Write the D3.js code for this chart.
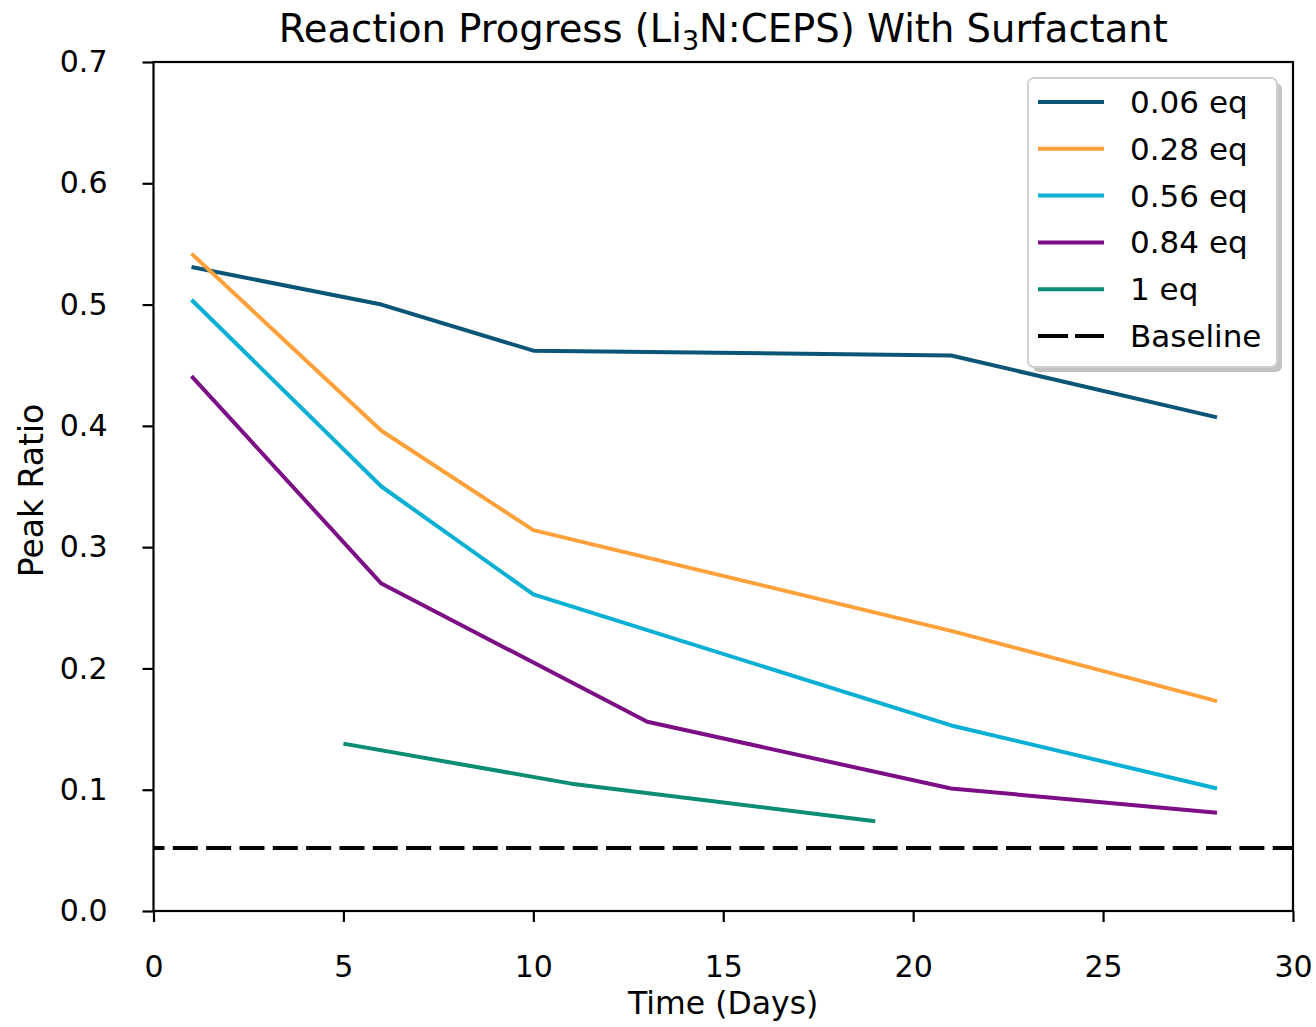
<!DOCTYPE html>
<html>
<head>
<meta charset="utf-8">
<script src="https://cdn.jsdelivr.net/npm/d3@7"></script>
<style>
  body { margin: 0; background: #fff; }
  text { font-family: "DejaVu Sans", sans-serif; fill: #000; }
</style>
</head>
<body>
<div id="chart"></div>
<script>
// data
var seriesNames = ["0.06 eq", "0.28 eq", "0.56 eq", "0.84 eq", "1 eq"];
var seriesColors = ["#0b5577", "#ffa13a", "#0aafd4", "#7c0e86", "#0a8d72"];
var days006 = [1, 6, 10, 21, 28];
var vals006 = [0.531, 0.500, 0.462, 0.458, 0.407];
var days028 = [1, 6, 10, 21, 28];
var vals028 = [0.542, 0.396, 0.314, 0.231, 0.173];
var days056 = [1, 6, 10, 21, 28];
var vals056 = [0.504, 0.350, 0.261, 0.153, 0.101];
var days084 = [1, 6, 13, 21, 28];
var vals084 = [0.441, 0.270, 0.156, 0.101, 0.081];
var days1 = [5, 11, 19];
var vals1 = [0.138, 0.105, 0.074];
var baseline = 0.052;
var xTicks = [0, 5, 10, 15, 20, 25, 30];
var yTicks = [0.0, 0.1, 0.2, 0.3, 0.4, 0.5, 0.6, 0.7];

var allDays = [days006, days028, days056, days084, days1];
var allVals = [vals006, vals028, vals056, vals084, vals1];

var width = 1316, height = 1027;
var margin = {left: 153.5, right: 23, top: 62, bottom: 116};

var svg = d3.select("#chart").append("svg")
  .attr("width", width)
  .attr("height", height);

var x = d3.scaleLinear().domain([0, 30]).range([margin.left, width - margin.right]);
var y = d3.scaleLinear().domain([0, 0.7]).range([height - margin.bottom, margin.top]);

// series lines
var line = d3.line()
  .x(function(d) { return x(d[0]); })
  .y(function(d) { return y(d[1]); });

allDays.forEach(function(days, i) {
  var pts = days.map(function(d, j) { return [d, allVals[i][j]]; });
  svg.append("path")
    .datum(pts)
    .attr("d", line)
    .attr("fill", "none")
    .attr("stroke", seriesColors[i])
    .attr("stroke-width", 4)
    .attr("stroke-linejoin", "round");
});

// baseline
svg.append("line")
  .attr("x1", x(0)).attr("x2", x(30))
  .attr("y1", y(baseline)).attr("y2", y(baseline))
  .attr("stroke", "#000")
  .attr("stroke-width", 4)
  .attr("stroke-dasharray", "25,8.33")
  .attr("stroke-dashoffset", 14);

// axes
var xAxis = svg.append("g")
  .attr("transform", "translate(0," + y(0) + ")")
  .call(d3.axisBottom(x).tickValues(xTicks).tickFormat(d3.format("d")).tickSize(11).tickPadding(34).tickSizeOuter(0));
var yAxis = svg.append("g")
  .attr("transform", "translate(" + x(0) + ",0)")
  .call(d3.axisLeft(y).tickValues(yTicks).tickFormat(d3.format(".1f")).tickSize(11).tickPadding(35).tickSizeOuter(0));

[xAxis, yAxis].forEach(function(g) {
  g.select(".domain").remove();
  g.selectAll(".tick line").attr("stroke", "#000").attr("stroke-width", 2.2);
  g.selectAll(".tick text").attr("font-size", 30).attr("font-family", "DejaVu Sans").attr("fill", "#000");
});

// frame
svg.append("rect")
  .attr("x", x(0)).attr("y", y(0.7))
  .attr("width", x(30) - x(0)).attr("height", y(0) - y(0.7))
  .attr("fill", "none")
  .attr("stroke", "#000")
  .attr("stroke-width", 2.2);

// title
var title = svg.append("text")
  .attr("x", (x(0) + x(30)) / 2)
  .attr("y", 42)
  .attr("text-anchor", "middle")
  .attr("font-size", 38.5);
title.append("tspan").text("Reaction Progress (Li");
title.append("tspan").attr("font-size", 27).attr("dy", 8).text("3");
title.append("tspan").attr("dy", -8).text("N:CEPS) With Surfactant");

// axis labels
svg.append("text")
  .attr("x", (x(0) + x(30)) / 2)
  .attr("y", 1014)
  .attr("text-anchor", "middle")
  .attr("font-size", 31.5)
  .text("Time (Days)");
svg.append("text")
  .attr("transform", "translate(43," + ((y(0) + y(0.7)) / 2 + 4) + ") rotate(-90)")
  .attr("text-anchor", "middle")
  .attr("font-size", 33)
  .text("Peak Ratio");

// legend
var lx = 1028, ly = 78, lw = 249, lh = 289;
var legend = svg.append("g");
legend.append("rect")
  .attr("x", lx + 5).attr("y", ly + 5)
  .attr("width", lw).attr("height", lh)
  .attr("rx", 6)
  .attr("fill", "#999").attr("opacity", 0.6);
legend.append("rect")
  .attr("x", lx).attr("y", ly)
  .attr("width", lw).attr("height", lh)
  .attr("rx", 6)
  .attr("fill", "#fff")
  .attr("stroke", "#d0d0d0")
  .attr("stroke-width", 2);

var legendItems = seriesNames.concat(["Baseline"]);
legendItems.forEach(function(name, i) {
  var cy = 102 + i * 46.8;
  legend.append("line")
    .attr("x1", 1038).attr("x2", 1104)
    .attr("y1", cy).attr("y2", cy)
    .attr("stroke", i < seriesColors.length ? seriesColors[i] : "#000")
    .attr("stroke-width", 4)
    .attr("stroke-dasharray", i < seriesColors.length ? null : "30,7");
  legend.append("text")
    .attr("x", 1130)
    .attr("y", cy + 11)
    .attr("font-size", 31)
    .text(name);
});
</script>
</body>
</html>
